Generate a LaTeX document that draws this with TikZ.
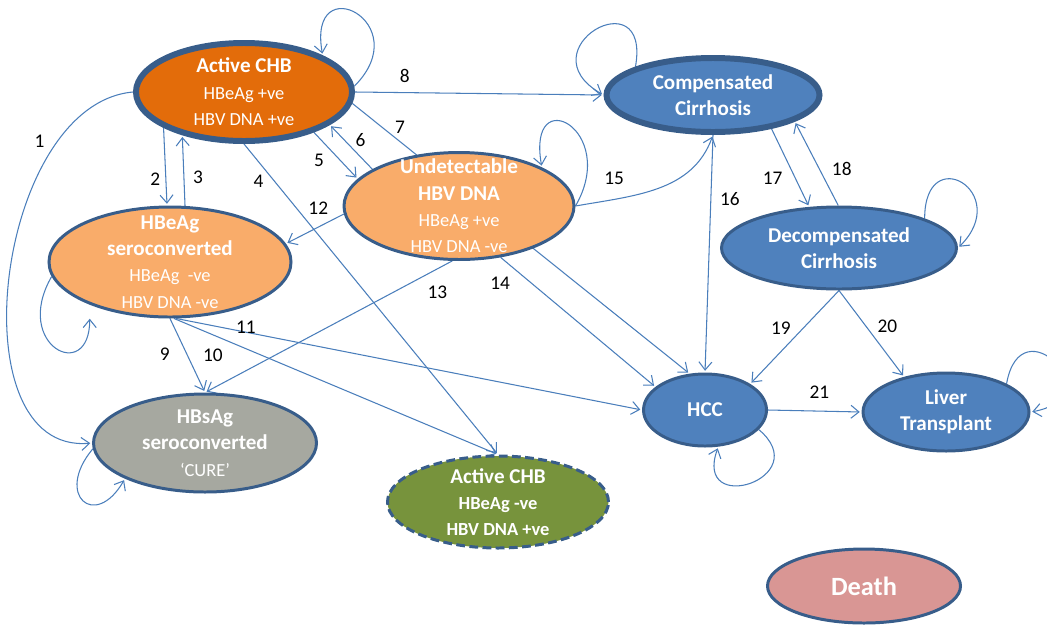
\documentclass[tikz,border=0pt]{standalone}
\usepackage{fontspec}
\setmainfont{Carlito}
\usetikzlibrary{shapes.geometric, arrows.meta, positioning, backgrounds}
\definecolor{rimblue}{RGB}{56,93,138}
\definecolor{linkblue}{RGB}{74,126,187}
\definecolor{cirrblue}{RGB}{79,129,189}
\definecolor{chborange}{RGB}{227,108,10}
\definecolor{softorange}{RGB}{249,172,106}
\definecolor{curegray}{RGB}{166,168,160}
\definecolor{olivegreen}{RGB}{119,147,60}
\definecolor{deathpink}{RGB}{217,150,148}
\tikzstyle{stage} = [ellipse,draw=rimblue,line width=1.7pt,inner sep=0pt]
\tikzstyle{heavy} = [line width=3.4pt]
\tikzstyle{caption} = [text=white,align=center,font=\fontsize{12}{15}\selectfont\bfseries]
\tikzstyle{trans} = [color=linkblue,line width=0.6pt,shorten >=1pt,-{Straight Barb[length=1.6mm,width=2.6mm]}]
\tikzstyle{num} = [text=black,font=\fontsize{11}{13}\selectfont,inner sep=1pt]
\newcommand{\subln}{\fontsize{10.5}{13.5}\selectfont\mdseries}

\begin{document}
\begin{tikzpicture}[node distance=2cm,on grid]
    \useasboundingbox (0,0) rectangle (20.94,-12.52);
    \node[stage,heavy,fill=chborange,minimum width=4.32cm,minimum height=1.96cm,
        label={[caption]center:{Active CHB\\{\subln HBeAg +ve}\\{\subln HBV DNA +ve}}}] (act) at (4.88,-1.84) {};
    \node[stage,fill=softorange,minimum width=4.60cm,minimum height=2.14cm,
        label={[caption]center:{Undetectable\\HBV DNA\\{\subln HBeAg +ve}\\{\subln HBV DNA -ve}}}] (und) [below right=2.28cm and 4.30cm of act] {};
    \node[stage,fill=softorange,minimum width=4.84cm,minimum height=2.20cm,
        label={[caption]center:{HBeAg\\seroconverted\\{\subln HBeAg~ -ve}\\{\subln HBV DNA -ve}}}] (hbe) [below left=3.40cm and 1.48cm of act] {};
    \node[stage,fill=curegray,minimum width=4.46cm,minimum height=1.96cm,
        label={[caption]center:{HBsAg\\seroconverted\\{\subln ‘CURE’}}}] (hbs) [below right=3.62cm and 0.70cm of hbe] {};
    \node[stage,dash pattern=on 5pt off 2.5pt,fill=olivegreen,minimum width=4.42cm,minimum height=1.84cm,
        label={[caption]center:{Active CHB\\{\subln\bfseries HBeAg -ve}\\{\subln\bfseries HBV DNA +ve}}}] (actn) [below right=5.92cm and 0.78cm of und] {};
    \node[stage,heavy,fill=cirrblue,minimum width=4.26cm,minimum height=1.48cm,
        label={[caption]center:{Compensated\\Cirrhosis}}] (comp) [below right=0.06cm and 9.38cm of act] {};
    \node[stage,fill=cirrblue,minimum width=4.70cm,minimum height=1.64cm,
        label={[caption]center:{Decompensated\\Cirrhosis}}] (decomp) [below right=3.06cm and 2.52cm of comp] {};
    \node[stage,fill=cirrblue,minimum width=2.46cm,minimum height=1.44cm,
        label={[caption]center:{HCC}}] (hcc) [below left=6.30cm and 0.16cm of comp] {};
    \node[stage,fill=cirrblue,minimum width=3.32cm,minimum height=1.56cm,
        label={[caption]center:{Liver\\Transplant}}] (lt) [below right=0.04cm and 4.82cm of hcc] {};
    \node[stage,fill=deathpink,minimum width=3.86cm,minimum height=1.48cm,
        label={[caption,font=\fontsize{15}{18}\selectfont\bfseries]center:{Death}}] (death) [below left=3.48cm and 1.64cm of lt] {};

    \begin{scope}[on background layer]
    \path[trans]
    (act.west) edge[out=185,in=185] node[num,pos=.22,left=6pt] (n1) {1} (hbs.west)
    (act.-156) edge node[num,pos=.66,left=2pt] (n2) {2} (hbe.93)
    (hbe.75) edge node[num,pos=.4,right=4pt] (n3) {3} (act.-145)
    (act.south) edge node[num,pos=.12,left=5pt] (n4) {4} (actn.north)
    (act.-30) edge node[num,pos=.6,left=8pt] (n5) {5} (und.165)
    (und.157) edge node[num,pos=.45,above right] (n6) {6} (act.-21)
    (act.-6) edge node[num,pos=.12,above right] (n7) {7} (hcc.113)
    (act.east) edge node[num,pos=.2,above=4.5pt] (n8) {8} (comp.west)
    (hbe.south) edge node[num,pos=.48,left=8.5pt] (n9) {9} (hbs.north)
    (hbe.-86) edge node[num,pos=.12,below=6.5pt] (n10) {10} (actn.north)
    (hbe.-84) edge node[num,pos=.15,above=-2pt] (n11) {11} (hcc.west)
    (und.-176) edge node[num,pos=.44,above=6pt] (n12) {12} (hbe.9)
    (und.-97) edge node[num,pos=.06,below=8.5pt] (n13) {13} (hbs.north)
    (und.-51) edge node[num,pos=.2,left=11pt] (n14) {14} (hcc.155)
    (und.east) edge[out=10,in=-110] node[num,pos=.22,above=7pt] (n15) {15} (comp.south)
    (comp.south) edge node[num,pos=.27,right=4pt] (n16) {16} (hcc.north)
    (comp.-30) edge node[num,pos=.63,left=6pt] (n17) {17} (decomp.126)
    (decomp.91) edge node[num,pos=.44,right=6pt] (n18) {18} (comp.-18)
    (decomp.south) edge node[num,pos=.4,left=6pt] (n19) {19} (hcc.30)
    (decomp.south) edge node[num,pos=.41,right=5.5pt] (n20) {20} (lt.140)
    (hcc.east) edge node[num,pos=.55,above=6pt] (n21) {21} (lt.west);
    % self loops
    \path[trans]
    (act.3) edge[out=45,in=100,looseness=5.2] (act.25)
    (und.east) edge[out=60,in=100,looseness=4.4] (und.25)
    (comp.160) edge[out=80,in=150,looseness=5.5] (comp.west)
    (decomp.19) edge[out=90,in=45,looseness=4.5] (decomp.east)
    (hbe.-173) edge[out=240,in=-90,looseness=4.3,shorten >=8pt] (hbe.-152)
    (hbs.183) edge[out=230,in=-120,looseness=3.5] (hbs.-156)
    (hcc.-20) edge[out=-40,in=-110,looseness=4.4] (hcc.-70)
    (lt.25) edge[out=80,in=10,looseness=5.7] (lt.east);
    \end{scope}
\end{tikzpicture}
\end{document}
